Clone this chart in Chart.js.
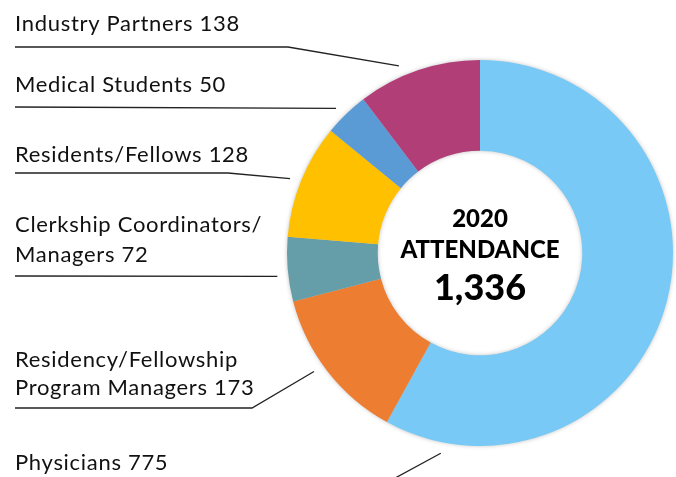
<!DOCTYPE html>
<html>
<head>
<meta charset="utf-8">
<script src="https://cdn.jsdelivr.net/npm/chart.js@4"></script>
<style>
  html, body { margin: 0; padding: 0; background: #fff; }
  #wrap { width: 676px; height: 477px; }
</style>
</head>
<body>
<div id="wrap"><canvas id="attendance"></canvas></div>
<script>
// data: "|" marks where the side label wraps
const categories = ["Physicians", "Residency/Fellowship|Program Managers", "Clerkship Coordinators/|Managers", "Residents/Fellows", "Medical Students", "Industry Partners"];
const attendance = [775, 173, 72, 128, 50, 138];
const sliceColors = ["#78C9F5", "#ED7D31", "#659DA9", "#FFC000", "#5B9BD5", "#B23E78"];
const centerTitle = ["2020", "ATTENDANCE"];

(() => {
  const total = attendance.reduce((a, b) => a + b, 0);

  // label layout (text baselines, underline y, elbow x, where the leader hits the slice)
  const labelLayout = [
    { base: [470], under: 483, elbow: 386, frac: 0.915 },
    { base: [367, 395], under: 408, elbow: 252, frac: 0.55 },
    { base: [232, 262], under: 276, elbow: null, frac: 0.41 },
    { base: [162], under: 173, elbow: 228, frac: 0.48 },
    { base: [92], under: 107, elbow: null, frac: 0.43 },
    { base: [31], under: 47, elbow: 288, frac: 0.37 }
  ];

  // soft shadow behind the ring
  const ringShadow = {
    id: "ringShadow",
    beforeDatasetsDraw: (chart) => {
      const arc = chart.getDatasetMeta(0).data[0];
      if (!arc) return;
      const ctx = chart.ctx;
      ctx.save();
      ctx.shadowColor = "rgba(0,0,0,0.35)";
      ctx.shadowBlur = 5;
      ctx.fillStyle = "#ccc";
      ctx.beginPath();
      ctx.arc(arc.x, arc.y, arc.outerRadius - 1, 0, Math.PI * 2);
      ctx.arc(arc.x, arc.y, arc.innerRadius + 1, 0, Math.PI * 2, true);
      ctx.fill();
      ctx.restore();
    }
  };

  // side labels with underline + leader line, and center text
  const sideLabels = {
    id: "sideLabels",
    afterDraw: (chart) => {
      const ctx = chart.ctx;
      const meta = chart.getDatasetMeta(0);
      ctx.save();
      ctx.fillStyle = "#111";
      ctx.font = "22px Lato";
      ctx.letterSpacing = "0.7px";
      ctx.textAlign = "left";
      ctx.textBaseline = "alphabetic";
      ctx.strokeStyle = "#222";
      ctx.lineWidth = 1.3;

      meta.data.forEach((arc, i) => {
        const lay = labelLayout[i];
        const lines = categories[i].split("|");
        lines[lines.length - 1] += " " + attendance[i];
        lines.forEach((t, j) => ctx.fillText(t, 15, lay.base[j]));

        const a = arc.startAngle + lay.frac * (arc.endAngle - arc.startAngle);
        const r = arc.outerRadius + 11;
        const px = arc.x + r * Math.cos(a);
        const py = arc.y + r * Math.sin(a);

        ctx.beginPath();
        ctx.moveTo(15, lay.under);
        if (lay.elbow !== null) {
          ctx.lineTo(lay.elbow, lay.under);
        }
        ctx.lineTo(px, py);
        ctx.stroke();
      });

      const c = meta.data[0];
      ctx.textAlign = "center";
      ctx.fillStyle = "#000";
      ctx.letterSpacing = "0px";
      ctx.font = "900 24px Lato";
      ctx.fillText(centerTitle[0], c.x, 227);
      ctx.fillText(centerTitle[1], c.x, 258);
      ctx.font = "900 36px Lato";
      ctx.fillText(total.toLocaleString("en-US"), c.x, 300);
      ctx.restore();
    }
  };

  new Chart(document.getElementById("attendance"), {
    type: "doughnut",
    data: {
      labels: categories.map(c => c.replace("|", " ")),
      datasets: [{
        data: attendance,
        backgroundColor: sliceColors,
        borderWidth: 0,
        hoverOffset: 0
      }]
    },
    options: {
      responsive: true,
      maintainAspectRatio: false,
      animation: false,
      cutout: "53%",
      layout: { padding: { left: 287, right: 3, top: 60, bottom: 31 } },
      events: [],
      plugins: {
        legend: { display: false },
        tooltip: { enabled: false }
      }
    },
    plugins: [ringShadow, sideLabels]
  });
})();
</script>
</body>
</html>
